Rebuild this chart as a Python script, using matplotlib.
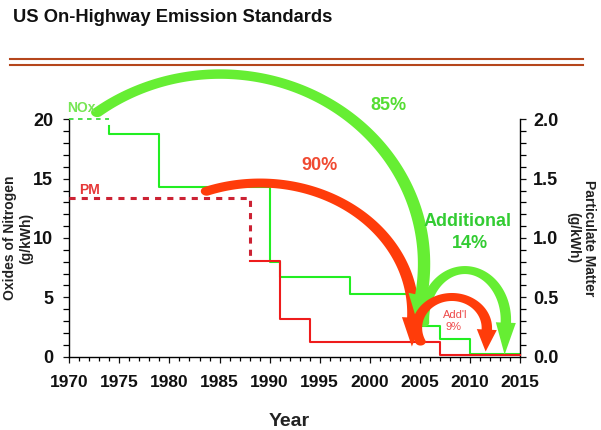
import numpy as np
import matplotlib
matplotlib.use("Agg")
import matplotlib.pyplot as plt
from matplotlib.patches import Polygon
from matplotlib.lines import Line2D
from matplotlib.ticker import MultipleLocator

plt.rcParams['font.family'] = ['Liberation Sans', 'DejaVu Sans']

# ---------------- data ----------------
nox_dash_years = [1970, 1974]
nox_dash_vals = [20.0, 20.0]
nox_years = [1974, 1974, 1979, 1990, 1991, 1998, 2004, 2007, 2010, 2015]
nox_vals = [19.4, 18.8, 14.3, 8.0, 6.7, 5.3, 2.6, 1.5, 0.2, 0.2]

pm_dash_years = [1970, 1988, 1988]
pm_dash_vals = [1.34, 1.34, 0.81]
pm_years = [1988, 1991, 1994, 2007, 2015]
pm_vals = [0.81, 0.32, 0.12, 0.013, 0.013]

x_ticks = list(range(1970, 2016, 5))
nox_ticks = [0, 5, 10, 15, 20]
pm_ticks = [0.0, 0.5, 1.0, 1.5, 2.0]

# reduction arrows (elliptical arcs, in year / NOx-axis units)
arrow_cx = [1989.04, 1985.05, 2009.5, 2008.2]
arrow_cy = [3.68, 7.81, 3.09, 2.42]
arrow_a = [15.28, 20.37, 4.09, 3.49]
arrow_b = [10.95, 16.0, 4.21, 2.61]
arrow_t0 = [110.4, 127.0, 183.0, 206.0]
arrow_t1 = [-2.0, -9.4, -3.0, -3.0]
arrow_w = [9.0, 9.5, 8.0, 8.0]
arrow_hw = [22.0, 26.0, 20.0, 20.0]
arrow_hl = [29.0, 26.0, 32.0, 22.0]
arrow_colors = ['#ff3c0a', '#66ee33', '#66ee33', '#ff3c0a']

# ---------------- figure ----------------
W, H = 601, 430
fig = plt.figure(figsize=(W / 100, H / 100), dpi=100)
x0, x1, y0, y1 = 69.3, 520.0, 356.7, 119.3
ax = fig.add_axes([x0 / W, (H - y0) / H, (x1 - x0) / W, (y0 - y1) / H])
ax2 = ax.twinx()

ax.set_xlim(1970, 2015)
ax.set_ylim(0, 20)
ax2.set_ylim(0, 2.0)

# step lines
ax.plot(nox_dash_years, nox_dash_vals, color='#3ddd3d', lw=1.3, dashes=(2.5, 2.5),
        zorder=3, clip_on=False)
ax.plot(nox_years, nox_vals, drawstyle='steps-post', color='#22ee22', lw=1.5, zorder=3,
        clip_on=False)
ax2.plot(pm_dash_years, pm_dash_vals, color='#cc2233', lw=2.2, dashes=(2, 2), zorder=3)
ax2.plot(pm_years, pm_vals, drawstyle='steps-post', color='#ee1c1c', lw=1.5, zorder=3,
         clip_on=False)

# ticks
ax.set_xticks(x_ticks, [str(v) for v in x_ticks], fontsize=12.5, fontweight='bold')
ax.set_yticks(nox_ticks, [str(v) for v in nox_ticks], fontsize=13, fontweight='bold')
ax2.set_yticks(pm_ticks, [f"{v:.1f}" for v in pm_ticks], fontsize=13, fontweight='bold')
ax.xaxis.set_minor_locator(MultipleLocator(1))
ax.yaxis.set_minor_locator(MultipleLocator(1))
ax2.yaxis.set_minor_locator(MultipleLocator(0.1))
ax.tick_params(axis='x', which='major', direction='out', length=4.5, width=0.9, pad=8.4, colors='#111111')
ax.tick_params(axis='x', which='minor', direction='out', length=3.2, width=0.9)
ax.tick_params(axis='y', which='major', direction='out', length=4.5, width=0.9, pad=7, right=False, colors='#111111')
ax.tick_params(axis='y', which='minor', direction='out', length=4.0, width=0.9, right=False)
ax2.tick_params(axis='y', which='major', direction='out', length=4.5, width=0.9, pad=5, left=False, colors='#111111')
ax2.tick_params(axis='y', which='minor', direction='out', length=4.0, width=0.9, left=False)

for s in ['top', 'right']:
    ax.spines[s].set_visible(False)
for s in ['top', 'left', 'bottom']:
    ax2.spines[s].set_visible(False)
for s in ax.spines.values():
    s.set_linewidth(1.0)
ax2.spines['right'].set_linewidth(1.0)
ax.set_ylim(0, 20)
ax2.set_ylim(0, 2.0)


def draw_arrow(cx, cy, a, b, t0, t1, w, hw, hl, color, z, sx=1.3):
    t = np.radians(np.linspace(t0, t1, 300))
    pts = np.column_stack([cx + a * np.cos(t), cy + b * np.sin(t)])
    P = ax.transData.transform(pts)
    d = np.gradient(P, axis=0)
    d /= np.linalg.norm(d, axis=1)[:, None]
    n = np.column_stack([-d[:, 1], d[:, 0]])
    off = n * (w / 2.0)
    off[:, 0] *= sx
    left = P + off
    right = P - off
    E, dE, nE = P[-1], d[-1], n[-1]
    head = np.array([E + nE * hw / 2.0, E + dE * hl, E - nE * hw / 2.0])
    ang0 = np.arctan2(n[0, 1], n[0, 0])
    phi = np.linspace(ang0 + np.pi, ang0, 24)
    cap = np.column_stack([P[0, 0] + sx * (w / 2.0) * np.cos(phi),
                           P[0, 1] + (w / 2.0) * np.sin(phi)])
    poly = np.vstack([left, head, right[::-1], cap])
    poly_data = ax.transData.inverted().transform(poly)
    patch = Polygon(poly_data, closed=True, transform=ax.transData,
                    facecolor=color, edgecolor='none', zorder=z, clip_on=False)
    ax2.add_patch(patch)


for i in range(len(arrow_cx)):
    draw_arrow(arrow_cx[i], arrow_cy[i], arrow_a[i], arrow_b[i], arrow_t0[i], arrow_t1[i],
               arrow_w[i], arrow_hw[i], arrow_hl[i], arrow_colors[i], 5 + i)

ax.set_ylim(0, 20)
ax2.set_ylim(0, 2.0)
ax.set_xlim(1970, 2015)

# annotations (year / NOx-axis coordinates)
def note(x, y, s, color, size, weight='bold'):
    ax2.text(x, y, s, transform=ax.transData, color=color, fontsize=size,
             fontweight=weight, ha='center', va='center', zorder=20, clip_on=False)

note(1971.17, 20.95, 'NOx', '#77e655', 10)
note(1972.02, 14.04, 'PM', '#e63838', 10)
note(2001.87, 21.2, '85%', '#55dd33', 13)
note(1995.03, 16.1, '90%', '#f04a32', 13)
note(2009.76, 11.35, 'Additional', '#33cc33', 13)
note(2009.96, 9.54, '14%', '#33cc33', 13)
note(2008.51, 3.51, "Add'l", '#ee4b4b', 8, 'normal')
note(2008.41, 2.50, '9%', '#ee4b4b', 8, 'normal')

# axis titles
fig.text(18.5 / W, 1 - 238 / H, 'Oxides of Nitrogen\n(g/kWh)', rotation=90, ha='center',
         va='center', fontsize=10, fontweight='bold', color='#222222', linespacing=1.2)
fig.text(581 / W, 1 - 238 / H, 'Particulate Matter\n(g/kWh)', rotation=270, ha='center',
         va='center', fontsize=10, fontweight='bold', color='#222222', linespacing=1.2)
fig.text(289 / W, 1 - 421 / H, 'Year', ha='center', va='center', fontsize=14,
         fontweight='bold', color='#222222')

# title and rules
fig.text(13 / W, 1 - 17 / H, 'US On-Highway Emission Standards', ha='left', va='center',
         fontsize=13.2, fontweight='bold', color='#111111')
for yy in [59, 65]:
    fig.add_artist(Line2D([10 / W, 583 / W], [1 - yy / H, 1 - yy / H],
                          transform=fig.transFigure, color='#b5461c', lw=1.5))

fig.savefig('out.png', dpi=100)
